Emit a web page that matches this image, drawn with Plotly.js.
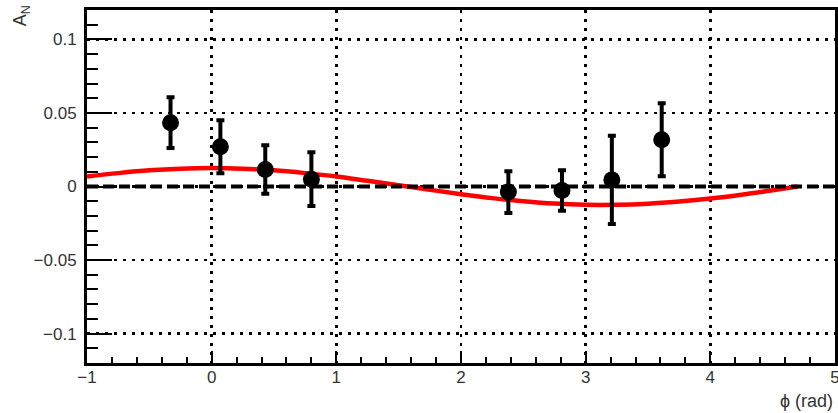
<!DOCTYPE html>
<html><head><meta charset="utf-8">
<script src="https://cdn.plot.ly/plotly-3.0.1.min.js"></script>
<style>html,body{margin:0;padding:0;background:#fff}</style>
</head><body>
<div id="chart" style="width:838px;height:413px"></div>
<script>
// measured asymmetry points
var phi = [-0.33, 0.07, 0.43, 0.80, 2.38, 2.81, 3.21, 3.61];
var an = [0.0434, 0.0270, 0.0115, 0.0050, -0.0038, -0.0027, 0.0045, 0.0318];
var anErr = [0.0172, 0.0180, 0.0165, 0.0183, 0.0142, 0.0138, 0.0300, 0.0248];
// fit curve
var fitX = [-1.0, -0.75, -0.5, -0.25, 0.0, 0.25, 0.5, 0.75, 1.0, 1.25, 1.5, 1.75, 2.0, 2.25, 2.5, 2.75, 3.0, 3.25, 3.5, 3.75, 4.0, 4.25, 4.5, 4.7];
var fitY = [0.0068, 0.0091, 0.0110, 0.0121, 0.0125, 0.0121, 0.0110, 0.0091, 0.0068, 0.0039, 0.0009, -0.0022, -0.0052, -0.0079, -0.0100, -0.0116, -0.0124, -0.0124, -0.0117, -0.0102, -0.0082, -0.0056, -0.0026, 0.0000];
// zero reference line
var refX = [-1, 5];
var refY = [0, 0];
var xTickVals = [-1, 0, 1, 2, 3, 4, 5];
var xTickText = ['\u22121', '0', '1', '2', '3', '4', '5'];
var yTickVals = [-0.1, -0.05, 0, 0.05, 0.1];
var yTickText = ['\u22120.1', '\u22120.05', '0', '0.05', '0.1'];

var traces = [
  {x: fitX, y: fitY, mode: 'lines', line: {color: '#ff0000', width: 4.5, shape: 'spline'}, hoverinfo: 'skip'},
  {x: refX, y: refY, mode: 'lines', line: {color: '#000', width: 4, dash: '11px,5px'}, hoverinfo: 'skip'},
  {x: phi, y: an, mode: 'markers', marker: {color: '#000', size: 17, symbol: 'circle'},
   error_y: {type: 'data', array: anErr, visible: true, color: '#000', thickness: 4, width: 4}}
];
var font = {family: 'Liberation Sans, Arial, sans-serif', size: 17, color: '#333'};
var titleFont = {family: 'Liberation Sans, Arial, sans-serif', size: 18, color: '#333'};
var layout = {
  width: 838, height: 413,
  margin: {l: 87, r: 3, t: 10, b: 50},
  paper_bgcolor: '#fff', plot_bgcolor: '#fff',
  showlegend: false,
  font: font,
  xaxis: {
    range: [-1, 5], tickmode: 'array', tickvals: xTickVals, ticktext: xTickText,
    ticks: 'inside', ticklen: 12, tickwidth: 2, tickcolor: '#000',
    minor: {dtick: 0.2, tick0: 0, ticks: 'inside', ticklen: 6, tickwidth: 2, tickcolor: '#000', showgrid: false},
    showline: true, linecolor: '#000', linewidth: 3, mirror: true,
    showgrid: true, gridcolor: '#000', gridwidth: 2.5, griddash: '3px,6px',
    zeroline: false, tickfont: font, ticklabelstandoff: -3, ticklabeloverflow: 'allow'
  },
  yaxis: {
    range: [-0.12, 0.12], tickmode: 'array', tickvals: yTickVals, ticktext: yTickText,
    ticks: 'inside', ticklen: 25, tickwidth: 2, tickcolor: '#000',
    minor: {dtick: 0.01, tick0: 0, ticks: 'inside', ticklen: 11, tickwidth: 2, tickcolor: '#000', showgrid: false},
    showline: true, linecolor: '#000', linewidth: 3, mirror: true,
    showgrid: true, gridcolor: '#000', gridwidth: 2.5, griddash: '3px,6px',
    zeroline: false, tickfont: font, ticklabelstandoff: 4, ticklabeloverflow: 'allow'
  },
  annotations: [
    {text: '\u03d5 (rad)', xref: 'paper', yref: 'paper', x: 1.0, y: -0.075, xanchor: 'right', yanchor: 'top',
     showarrow: false, font: titleFont},
    {text: 'A<sub>N</sub>', xref: 'paper', yref: 'paper', x: -0.087, y: 1.02, xanchor: 'center', yanchor: 'top',
     textangle: -90, showarrow: false, font: titleFont}
  ]
};
Plotly.newPlot('chart', traces, layout, {displayModeBar: false, staticPlot: true});
</script>
</body></html>
